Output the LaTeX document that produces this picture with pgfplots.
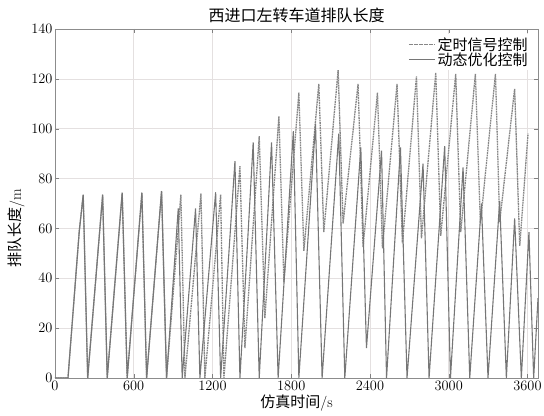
\documentclass[border=0pt]{standalone}
\usepackage{fontspec}
\usepackage{pgfplots}
\pgfplotsset{compat=1.18}
\newfontfamily\cjk{Noto Sans CJK SC}
\definecolor{solidc}{RGB}{118,118,118}
\definecolor{dashc}{RGB}{135,135,135}
\definecolor{gridc}{RGB}{228,224,224}
\begin{document}
\begin{tikzpicture}
\begin{axis}[
 scale only axis, width=483bp, height=349bp,
 xmin=0, xmax=3680, ymin=0, ymax=140,
 xtick={0,600,...,3600}, ytick={0,20,...,140},
 /pgf/number format/1000 sep={},
 grid=major, major grid style={gridc, line width=0.6bp},
 axis line style={black!45},
 tick style={black!50},
 ticklabel style={font=\fontsize{15bp}{18bp}\selectfont},
 yticklabel style={xshift=1bp},
 title={\cjk 西进口左转车道排队长度},
 title style={font=\fontsize{16bp}{18bp}\selectfont, yshift=-3bp},
 xlabel={{\cjk 仿真时间}/s}, ylabel={{\cjk 排队长度}/m},
 label style={font=\fontsize{15bp}{18bp}\selectfont},
 ylabel style={at={(ticklabel cs:0.43)}},
 xlabel style={yshift=3bp},
 legend style={draw=none, fill=white, at={(rel axis cs:0.985,0.985)}, anchor=north east,
   font=\fontsize{15bp}{18bp}\selectfont\cjk, inner sep=1bp, row sep=-3bp},
 legend cell align=left,
 legend image code/.code={\draw[#1] (0bp,0bp) -- (26bp,0bp);},
]
\addplot[dashc, line width=1.3bp, dash pattern=on 1.8bp off 0.7bp] coordinates {
(0,0) (99,0) (185,59) (215,73.5) (249,0) (363,73.5) (398,0) (512,74.3) (550,0)
(662,74.3) (698,0) (812,75) (850,0)
(959,73.5) (990,0) (1112,74) (1142,0) (1262,73.6) (1287,0)
(1409,85) (1447,12) (1556,97) (1599,24) (1706,105) (1744,38.5)
(1858,114.5) (1896,51) (2010,118) (2048,58.5) (2157,123.5) (2195,62)
(2309,118) (2347,52.5) (2457,114.5) (2495,52) (2606,118) (2647,54)
(2754,121) (2792,56) (2901,122.5) (2939,57) (3053,122) (3091,58.5)
(3203,122) (3241,62) (3356,122) (3388,62.5) (3502,116) (3541,53) (3604,98)
};
\addlegendentry{定时信号控制}
\addplot[solidc, line width=1.1bp] coordinates {
(0,0) (99,0) (185,59) (215,73.5) (249,0) (363,73.5) (398,0) (512,74.3) (550,0)
(662,74.3) (698,0) (812,75) (850,0)
(939,68) (969,0) (1071,68) (1104,0) (1224,74.5) (1262,0)
(1371,87) (1409,0) (1510,94.5) (1556,0) (1650,94.5) (1700,0)
(1816,99) (1858,0) (1985,102) (2035,0) (2162,98) (2208,0)
(2330,92.5) (2373,12) (2488,91.2) (2526,0) (2632,92.5) (2682,0)
(2804,86) (2850,0) (2969,93) (3013,0) (3109,84.5) (3160,0)
(3249,70) (3299,0) (3388,71) (3439,0) (3502,64) (3553,0)
(3611,58.5) (3647,0) (3680,32)
};
\addlegendentry{动态优化控制}
\end{axis}
\pgfresetboundingbox
\path[use as bounding box] ([xshift=-55bp,yshift=-38bp]current axis.south west) rectangle ([xshift=6bp,yshift=29bp]current axis.north east);
\end{tikzpicture}
\end{document}
